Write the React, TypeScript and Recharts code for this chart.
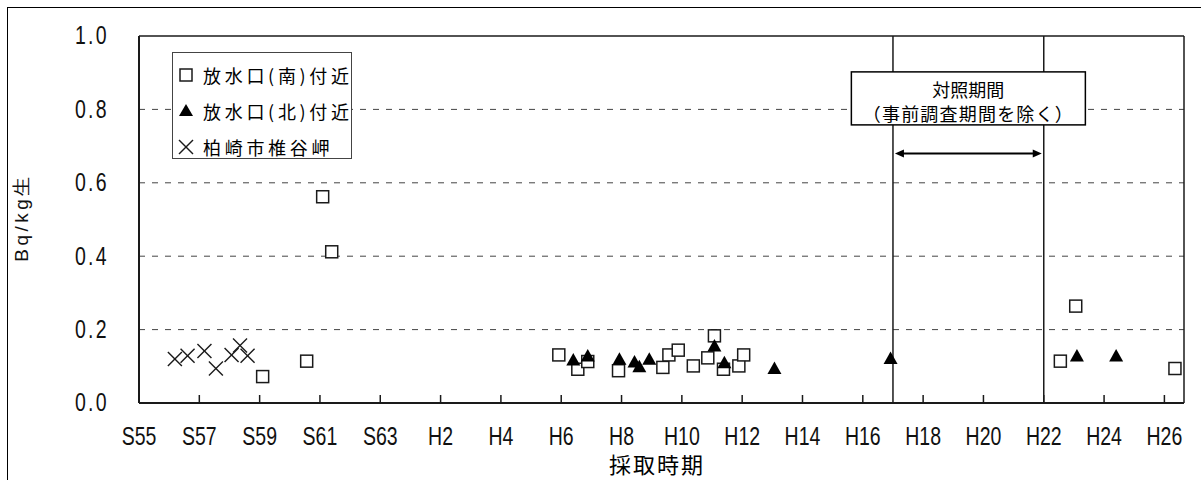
import React from 'react';
import { ScatterChart, Scatter, XAxis, YAxis, CartesianGrid, ReferenceLine, ReferenceDot, Label } from 'recharts';

const LATIN = "'Liberation Sans', Arial, sans-serif";
const CJK = "'Noto Sans CJK JP', 'Noto Sans CJK SC', sans-serif";

// 採取時期 (year, fractional) and Bq/kg生
const southX = [1984.1, 1985.56, 1986.09, 1986.39, 1993.92, 1994.55, 1994.88, 1995.9, 1997.37, 1997.57, 1997.88, 1998.38, 1998.86, 1999.08, 1999.38, 1999.89, 2000.05, 2010.55, 2011.06, 2014.35];
const southY = [0.072, 0.114, 0.562, 0.412, 0.131, 0.092, 0.113, 0.088, 0.097, 0.131, 0.144, 0.101, 0.123, 0.183, 0.092, 0.101, 0.131, 0.114, 0.264, 0.094];

const northX = [1994.4, 1994.88, 1995.93, 1996.43, 1996.59, 1996.92, 1999.08, 1999.41, 2001.07, 2004.92, 2011.1, 2012.4];
const northY = [0.117, 0.128, 0.119, 0.112, 0.099, 0.119, 0.155, 0.11, 0.094, 0.121, 0.128, 0.128];

const shiiyaX = [1981.19, 1981.61, 1982.17, 1982.55, 1983.07, 1983.35, 1983.6];
const shiiyaY = [0.12, 0.129, 0.142, 0.094, 0.131, 0.157, 0.129];

const seriesNames = ['放水口(南)付近', '放水口(北)付近', '柏崎市椎谷岬'];

const xTicks = [1980, 1982, 1984, 1986, 1988, 1990, 1992, 1994, 1996, 1998, 2000, 2002, 2004, 2006, 2008, 2010, 2012, 2014];
const xTickLabels = ['S55', 'S57', 'S59', 'S61', 'S63', 'H2', 'H4', 'H6', 'H8', 'H10', 'H12', 'H14', 'H16', 'H18', 'H20', 'H22', 'H24', 'H26'];
const xDomain = [1980, 2014.65];
const yTicks = [0, 0.2, 0.4, 0.6, 0.8, 1.0];

// 対照期間 H17 - H22
const period = [2005, 2010];
const arrowY = 0.68;
const boxY = 0.83;
const boxLines = ['対照期間', '（事前調査期間を除く）'];

const toPts = (xs: number[], ys: number[]) => xs.map((x, i) => ({ x, y: ys[i] }));
const southData = toPts(southX, southY);
const northData = toPts(northX, northY);
const shiiyaData = toPts(shiiyaX, shiiyaY);

const INK = '#1a1a1a';

// narrow, tall glyphs like the original's gothic font
const Narrow = ({ x, y, anchor, size, rotate, spacing, sx, children }: any) => (
  <text
    transform={`translate(${x} ${y}) rotate(${rotate || 0}) scale(${sx || 0.78} 1)`}
    textAnchor={anchor}
    dominantBaseline="central"
    fontFamily={LATIN}
    fontSize={size}
    letterSpacing={spacing || 0}
    fill="#111"
  >
    {children}
  </text>
);

const Square = ({ cx, cy }: any) => (
  <rect x={cx - 6} y={cy - 6} width={12} height={12} fill="#fff" stroke={INK} strokeWidth={1.5} />
);
const Triangle = ({ cx, cy }: any) => (
  <polygon points={`${cx},${cy - 7} ${cx - 7},${cy + 5.5} ${cx + 7},${cy + 5.5}`} fill="#000" />
);
const Cross = ({ cx, cy }: any) => (
  <g stroke={INK} strokeWidth={1.4}>
    <line x1={cx - 7} y1={cy - 7} x2={cx + 7} y2={cy + 7} />
    <line x1={cx - 7} y1={cy + 7} x2={cx + 7} y2={cy - 7} />
  </g>
);

const XTick = (props: any) => {
  const { x, y, payload } = props;
  const label = xTickLabels[xTicks.indexOf(payload.value)];
  return (
    <g>
      <line x1={x} x2={x} y1={y - 8} y2={y} stroke={INK} strokeWidth={1.5} />
      <Narrow x={x} y={y + 34} anchor="middle" size={25}>
        {label}
      </Narrow>
    </g>
  );
};

const YTick = (props: any) => {
  const { x, y, payload } = props;
  return (
    <Narrow x={x + 2} y={y} anchor="end" size={25} spacing={3}>
      {Number(payload.value).toFixed(1)}
    </Narrow>
  );
};

const Arrow = (props: any) => {
  const { x1, y1, x2 } = props;
  const a = x1 + 2;
  const b = x2 - 2;
  return (
    <g>
      <line x1={a + 6} y1={y1} x2={b - 6} y2={y1} stroke="#000" strokeWidth={2} />
      <polygon points={`${a},${y1} ${a + 9},${y1 - 4} ${a + 9},${y1 + 4}`} fill="#000" />
      <polygon points={`${b},${y1} ${b - 9},${y1 - 4} ${b - 9},${y1 + 4}`} fill="#000" />
    </g>
  );
};

const PeriodBox = (props: any) => {
  const { cx, cy } = props;
  return (
    <g>
      <rect x={cx - 117} y={cy - 26.5} width={234} height={53} fill="#fff" stroke="#000" strokeWidth={1.5} />
      <text x={cx} y={cy - 9} textAnchor="middle" dominantBaseline="central" fontFamily={CJK} fontSize={18} fill="#000">
        {boxLines[0]}
      </text>
      <text x={cx} y={cy + 14.5} textAnchor="middle" dominantBaseline="central" fontFamily={CJK} fontSize={18} letterSpacing={1.2} fill="#000">
        {boxLines[1]}
      </text>
    </g>
  );
};

const legendMarkers = [
  <rect key="s" x={1} y={1} width={12} height={12} fill="#fff" stroke={INK} strokeWidth={1.5} />,
  <polygon key="n" points="7,0 0,12 14,12" fill="#000" />,
  <g key="c" stroke={INK} strokeWidth={1.4}>
    <line x1={0} y1={0} x2={14} y2={14} />
    <line x1={0} y1={14} x2={14} y2={0} />
  </g>,
];

export default function App() {
  return (
    <div style={{ position: 'absolute', left: 0, top: 0, width: 1201, height: 480, background: '#fff', overflow: 'hidden' }}>
      <div style={{ position: 'absolute', left: 7, top: 7, width: 1300, height: 600, borderLeft: '1px solid #000', borderTop: '1px solid #000' }} />
      <ScatterChart width={1201} height={480} margin={{ top: 36, right: 17, left: 8, bottom: 37 }}>
        <CartesianGrid vertical={false} stroke="#444" strokeDasharray="6 7" horizontalValues={[0.2, 0.4, 0.6, 0.8]} />
        <XAxis
          type="number"
          dataKey="x"
          domain={xDomain}
          ticks={xTicks}
          interval={0}
          allowDataOverflow
          height={40}
          tickSize={0}
          tickMargin={0}
          tickLine={false}
          axisLine={{ stroke: INK, strokeWidth: 2 }}
          tick={<XTick />}
        >
          <Label
            content={(p: any) => (
              <text x={657} y={p.viewBox.y + 60} textAnchor="middle" dominantBaseline="central" fontFamily={CJK} fontSize={22} letterSpacing={2} fill="#000">
                採取時期
              </text>
            )}
          />
        </XAxis>
        <YAxis
          type="number"
          dataKey="y"
          domain={[0, 1]}
          ticks={yTicks}
          interval={0}
          width={131}
          tickSize={0}
          tickMargin={32}
          tickLine={false}
          axisLine={{ stroke: INK, strokeWidth: 2 }}
          tick={<YTick />}
        >
          <Label
            content={(p: any) => (
              <Narrow x={p.viewBox.x + 13} y={p.viewBox.y + p.viewBox.height / 2 - 2} anchor="middle" size={19} rotate={-90} spacing={3.5} sx={1}>
                Bq/kg生
              </Narrow>
            )}
          />
        </YAxis>

        <ReferenceLine y={1} stroke={INK} strokeWidth={1.5} />
        <ReferenceLine x={xDomain[1]} stroke={INK} strokeWidth={1.5} />
        <ReferenceLine x={period[0]} stroke={INK} strokeWidth={1.5} />
        <ReferenceLine x={period[1]} stroke={INK} strokeWidth={1.5} />

        <Scatter name={seriesNames[0]} data={southData} shape={(p: any) => <Square cx={p.cx} cy={p.cy} />} isAnimationActive={false} />
        <Scatter name={seriesNames[1]} data={northData} shape={(p: any) => <Triangle cx={p.cx} cy={p.cy} />} isAnimationActive={false} />
        <Scatter name={seriesNames[2]} data={shiiyaData} shape={(p: any) => <Cross cx={p.cx} cy={p.cy} />} isAnimationActive={false} />

        <ReferenceLine segment={[{ x: period[0], y: arrowY }, { x: period[1], y: arrowY }]} shape={(p: any) => <Arrow {...p} />} />
        <ReferenceDot x={(period[0] + period[1]) / 2} y={boxY} r={1} shape={(p: any) => <PeriodBox cx={p.cx} cy={p.cy} />} />
      </ScatterChart>

      <div
        style={{
          position: 'absolute',
          left: 172,
          top: 52,
          width: 180,
          height: 107,
          boxSizing: 'border-box',
          border: '1.5px solid #444',
          background: '#fff',
          paddingTop: 4,
        }}
      >
        {seriesNames.map((name, i) => (
          <div key={name} style={{ height: 36, display: 'flex', alignItems: 'center' }}>
            <svg width={14} height={14} style={{ marginLeft: 6, marginRight: 10, overflow: 'visible' }}>
              {legendMarkers[i]}
            </svg>
            <span style={{ fontFamily: CJK, fontSize: 18, letterSpacing: 3.7, color: '#000', whiteSpace: 'nowrap', lineHeight: '36px' }}>
              {name}
            </span>
          </div>
        ))}
      </div>
    </div>
  );
}
